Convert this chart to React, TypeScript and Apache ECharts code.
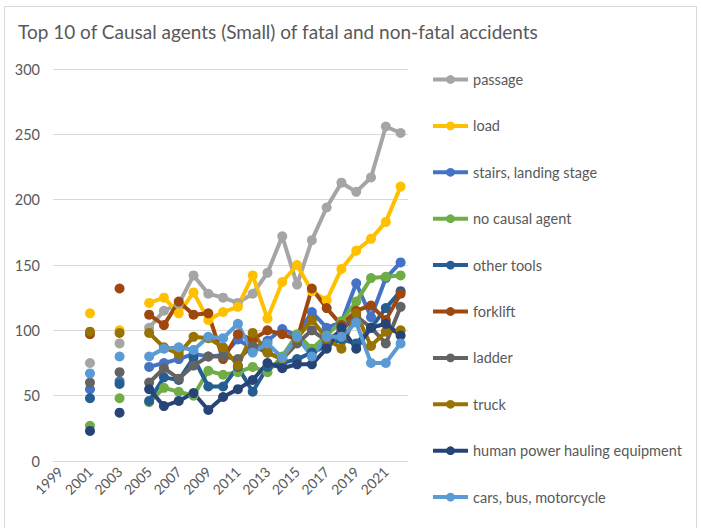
import React, { useEffect, useRef } from "react";
import * as echarts from "echarts";

const years = [
  "1999", "2000", "2001", "2002", "2003", "2004", "2005", "2006", "2007", "2008", "2009", "2010",
  "2011", "2012", "2013", "2014", "2015", "2016", "2017", "2018", "2019", "2020", "2021", "2022",
];

const seriesNames = [
  "passage",
  "load",
  "stairs, landing stage",
  "no causal agent",
  "other tools",
  "forklift",
  "ladder",
  "truck",
  "human power hauling equipment",
  "cars, bus, motorcycle",
];

const seriesColors = [
  "#A5A5A5", "#FFC000", "#4472C4", "#70AD47", "#255E91",
  "#9E480E", "#636363", "#997300", "#264478", "#5B9BD5",
];

const passage = [null, null, 75, null, 90, null, 102, 115, 120, 142, 128, 125, 121, 128, 144, 172, 135, 169, 194, 213, 206, 217, 256, 251];
const load = [null, null, 113, null, 100, null, 121, 125, 113, 129, 108, 114, 118, 142, 109, 137, 150, 130, 123, 147, 161, 170, 183, 210];
const stairs = [null, null, 55, null, 61, null, 72, 75, 78, 82, 80, 81, 93, 86, 92, 101, 96, 114, 102, 106, 136, 110, 140, 152];
const noCausal = [null, null, 27, null, 48, null, 45, 56, 53, 50, 69, 66, 68, 72, 68, 80, 97, 86, 96, 107, 122, 140, 141, 142];
const otherTools = [null, null, 48, null, 59, null, 46, 64, 62, 79, 57, 57, 72, 53, 72, 75, 78, 83, 88, 93, 90, 102, 117, 130];
const forklift = [null, null, 97, null, 132, null, 112, 104, 122, 112, 113, 78, 97, 93, 100, 97, 93, 132, 117, 104, 115, 119, 108, 128];
const ladder = [null, null, 60, null, 68, null, 60, 71, 63, 73, 80, 80, 78, 88, 83, 78, 90, 100, 92, 100, 111, 102, 90, 118];
const truck = [null, null, 99, null, 98, null, 98, 87, 82, 95, 94, 87, 73, 98, 83, 78, 94, 108, 94, 86, 113, 88, 99, 100];
const humanPower = [null, null, 23, null, 37, null, 55, 42, 46, 52, 39, 49, 55, 62, 75, 71, 74, 74, 86, 102, 86, 102, 105, 96];
const cars = [null, null, 67, null, 80, null, 80, 86, 87, 85, 95, 94, 105, 83, 90, 79, 95, 80, 95, 95, 106, 75, 75, 90];

const seriesData = [passage, load, stairs, noCausal, otherTools, forklift, ladder, truck, humanPower, cars];

const yTicks = [0, 50, 100, 150, 200, 250, 300];

const FONT = "Lato, 'Noto Sans', sans-serif";
const TEXT = "#595959";

export default function App() {
  const ref = useRef<HTMLDivElement>(null);
  useEffect(() => {
    if (!ref.current) return;
    const chart = echarts.init(ref.current, undefined, { renderer: "svg" });
    chart.setOption({
      animation: false,
      backgroundColor: "#ffffff",
      textStyle: { fontFamily: FONT },
      title: {
        text: "Top 10 of Causal agents (Small) of fatal and non-fatal accidents",
        left: 13,
        top: 17,
        textStyle: { fontFamily: FONT, fontSize: 19, fontWeight: "normal", color: TEXT },
      },
      graphic: [
        {
          type: "rect",
          shape: { x: 4.5, y: 6.5, width: 692, height: 540 },
          style: { fill: "none", stroke: "#d9d9d9", lineWidth: 1 },
          silent: true,
          z: -10,
        },
      ],
      grid: { left: 53, right: 293, top: 69, bottom: 67, containLabel: false },
      legend: {
        orient: "vertical",
        left: 426,
        top: 67,
        itemWidth: 35,
        itemHeight: 11,
        itemGap: 31.4,
        data: seriesNames,
        lineStyle: { width: 4 },
        textStyle: { fontFamily: FONT, fontSize: 14.5, color: TEXT, lineHeight: 14 },
      },
      xAxis: {
        type: "category",
        data: years,
        boundaryGap: true,
        axisLine: { lineStyle: { color: "#d9d9d9", width: 1 } },
        axisTick: { show: false },
        axisLabel: {
          interval: 1,
          rotate: 45,
          color: TEXT,
          fontSize: 14,
          fontFamily: FONT,
          margin: 8,
        },
      },
      yAxis: {
        type: "value",
        min: yTicks[0],
        max: yTicks[yTicks.length - 1],
        interval: 50,
        axisLine: { show: false },
        axisTick: { show: false },
        splitLine: { lineStyle: { color: "#d9d9d9", width: 1 } },
        axisLabel: { color: TEXT, fontSize: 14.5, fontFamily: FONT, margin: 13 },
      },
      series: seriesNames.map((name, i) => ({
        name,
        type: "line",
        data: seriesData[i],
        connectNulls: false,
        showAllSymbol: true,
        symbol: "circle",
        symbolSize: 10,
        color: seriesColors[i],
        lineStyle: { width: 4, color: seriesColors[i] },
        itemStyle: { color: seriesColors[i] },
      })),
    });
    return () => chart.dispose();
  }, []);
  return (
    <div
      ref={ref}
      style={{ position: "fixed", left: 0, top: 0, width: 701, height: 528 }}
    />
  );
}
